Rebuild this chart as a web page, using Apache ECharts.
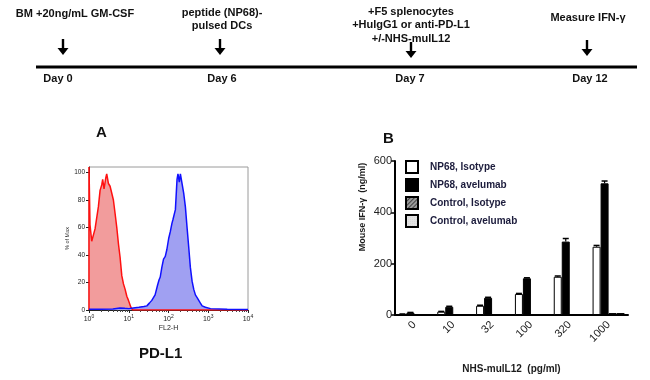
<!DOCTYPE html>
<html>
<head>
<meta charset="utf-8">
<title>PD-L1 / IFN-gamma</title>
<script src="https://cdn.jsdelivr.net/npm/echarts@6/dist/echarts.min.js"></script>
<style>
  html, body { margin: 0; padding: 0; background: #fff; }
  #main { width: 650px; height: 380px; }
</style>
</head>
<body>
<div id="main"></div>
<script>
// ---- 时间轴 (schematic) ----
var timelineDays = ['Day 0', 'Day 6', 'Day 7', 'Day 12'];
var timelineNotes = [
    ['BM +20ng/mL GM-CSF'],
    ['peptide (NP68)-', 'pulsed DCs'],
    ['+F5 splenocytes', '+HulgG1 or anti-PD-L1', '+/-NHS-mulL12'],
    ['Measure IFN-\u03b3']
];

// ---- A: histogram, [FL2-H, % of Max] ----
var isotypeHist = [
    [1, 0], [1, 104], [1.06, 62], [1.17, 50], [1.28, 49], [1.42, 59], [1.56, 60],
    [1.72, 75], [1.9, 87], [2.09, 91], [2.21, 95], [2.39, 88], [2.64, 96], [2.79, 99],
    [3.08, 92], [3.39, 90], [3.73, 90], [4.11, 80], [4.54, 70], [5.0, 60], [5.51, 48],
    [6.07, 38], [6.68, 25], [7.36, 19], [8.11, 15], [8.94, 10], [9.84, 7], [11.3, 2],
    [12.6, 0], [10000, 0]
];
var pdl1Hist = [
    [1, 0.5], [2, 0.5], [4, 0.8], [6, 1.5], [8, 1.2], [10, 1], [13, 1.5], [18, 2],
    [24, 2.5], [28.6, 3], [33, 5], [38, 7], [46, 11], [53, 18], [58, 22], [62, 24],
    [68, 31], [75, 37], [83, 39], [91, 44], [101, 52], [111, 57], [122, 63], [130, 66],
    [140, 65], [149, 73], [157, 85], [164, 95], [173, 99], [187, 93], [199, 99],
    [219, 98], [241, 85], [266, 75], [293, 60], [322, 46], [355, 31], [392, 21],
    [432, 15], [475, 11], [525, 9], [577, 7], [635, 5], [701, 3], [849, 2], [1137, 1],
    [3000, 0.5], [10000, 0.3]
];

// ---- B: IFN-gamma (ng/ml) vs NHS-muIL12 (pg/ml) ----
var doseLabels = ['0', '10', '32', '100', '320', '1000'];
var seriesNames = ['NP68, Isotype', 'NP68, avelumab', 'Control, Isotype', 'Control, avelumab'];
var np68Isotype = [3, 13, 36, 82, 149, 266];
var np68IsotypeErr = [1, 1, 2, 2, 3, 5];
var np68Avelumab = [9, 32, 67, 143, 286, 513];
var np68AvelumabErr = [1, 2, 2, 2, 12, 9];
var ctrlIsotype = [0.5, 0.5, 0.5, 1.5, 3, 7];
var ctrlAvelumab = [0.5, 0.5, 0.5, 1.5, 3, 7];

var FONT = 'Liberation Sans, Arial, sans-serif';
var BAR_W = 8;

// 时间轴的位置
var tl = {
    y: 67, x0: 36, x1: 637,
    arrowX: [63, 220, 411, 587],
    arrowTop: [39, 39, 42, 40],
    arrowBottom: [55, 55, 58, 56],
    dayX: [58, 222, 410, 590],
    noteX: [75, 222, 411, 588],
    noteY: [13, 12, 11, 17],
    dayY: 79
};

function timelineGraphic() {
    var els = [];
    els.push({
        type: 'line',
        shape: { x1: tl.x0, y1: tl.y, x2: tl.x1, y2: tl.y },
        style: { stroke: '#000', lineWidth: 2.8 }
    });
    for (var i = 0; i < timelineDays.length; i++) {
        var x = tl.arrowX[i], b = tl.arrowBottom[i];
        els.push({
            type: 'line',
            shape: { x1: x, y1: tl.arrowTop[i], x2: x, y2: b - 5 },
            style: { stroke: '#000', lineWidth: 2.4 }
        });
        els.push({
            type: 'polygon',
            shape: { points: [[x - 5.5, b - 7], [x + 5.5, b - 7], [x, b]] },
            style: { fill: '#000' }
        });
        els.push({
            type: 'text',
            x: tl.dayX[i], y: tl.dayY,
            style: {
                text: timelineDays[i], fill: '#111', font: 'bold 11px ' + FONT,
                align: 'center', verticalAlign: 'middle'
            }
        });
        els.push({
            type: 'text',
            x: tl.noteX[i], y: tl.noteY[i] - 6,
            style: {
                text: timelineNotes[i].join('\n'), fill: '#111', font: 'bold 11px ' + FONT,
                align: 'center', verticalAlign: 'top', lineHeight: 13.5
            }
        });
    }
    return els;
}

// 误差线
function errorSeries(vals, errs, slot) {
    return {
        type: 'custom',
        xAxisIndex: 1,
        yAxisIndex: 1,
        z: 5,
        silent: true,
        renderItem: function (params, api) {
            var top = api.coord([api.value(0), api.value(1)]);
            var cap = api.coord([api.value(0), api.value(1) + api.value(2)]);
            var x = top[0] + (slot - 1.5) * BAR_W;
            return {
                type: 'group',
                children: [
                    { type: 'line', shape: { x1: x, y1: top[1], x2: x, y2: cap[1] }, style: { stroke: '#000', lineWidth: 1.2 } },
                    { type: 'line', shape: { x1: x - 3, y1: cap[1], x2: x + 3, y2: cap[1] }, style: { stroke: '#000', lineWidth: 1.5 } }
                ]
            };
        },
        data: vals.map(function (v, i) { return [i, v, errs[i]]; })
    };
}

function barSeries(name, data, style) {
    return {
        name: name,
        type: 'bar',
        xAxisIndex: 1,
        yAxisIndex: 1,
        barWidth: BAR_W,
        barGap: '0%',
        itemStyle: style,
        data: data
    };
}

var myChart = echarts.init(document.getElementById('main'), null, { renderer: 'canvas' });

var option = {
    backgroundColor: '#fff',
    animation: false,
    textStyle: { fontFamily: FONT },
    graphic: timelineGraphic(),
    title: [
        { text: 'A', left: 91, top: 120, textStyle: { fontSize: 15, fontWeight: 'bold', color: '#111', fontFamily: FONT } },
        { text: 'B', left: 378, top: 126, textStyle: { fontSize: 15, fontWeight: 'bold', color: '#111', fontFamily: FONT } },
        { text: 'PD-L1', left: 134, top: 341, textStyle: { fontSize: 15, fontWeight: 'bold', color: '#111', fontFamily: FONT } }
    ],
    legend: {
        left: 405,
        top: 160,
        padding: 0,
        orient: 'vertical',
        icon: 'rect',
        itemWidth: 12,
        itemHeight: 12,
        itemGap: 4,
        selectedMode: false,
        data: seriesNames,
        textStyle: { fontSize: 10, fontWeight: 'bold', color: '#1c1c3c', fontFamily: FONT, padding: [0, 0, 0, 7] }
    },
    grid: [
        { left: 89, top: 167, width: 159, height: 143, show: true, borderColor: '#9a9a9a', borderWidth: 1, backgroundColor: 'transparent' },
        { left: 395, top: 161, width: 233, height: 154 }
    ],
    xAxis: [
        {
            type: 'log', gridIndex: 0, logBase: 10, min: 1, max: 10000,
            name: 'FL2-H', nameLocation: 'middle', nameGap: 15,
            nameTextStyle: { fontSize: 7, color: '#222' },
            axisLine: { lineStyle: { color: '#222', width: 1 } },
            axisTick: { length: 3, lineStyle: { color: '#222' } },
            minorTick: { show: true, splitNumber: 9, length: 2, lineStyle: { color: '#444' } },
            splitLine: { show: false },
            axisLabel: {
                margin: 4, color: '#222',
                formatter: function (v) { return '10{s|' + Math.round(Math.log10(v)) + '}'; },
                rich: { s: { fontSize: 5, padding: [0, 0, 5, 0], color: '#222' } },
                fontSize: 7
            }
        },
        {
            type: 'category', gridIndex: 1, data: doseLabels,
            name: 'NHS-mulL12  (pg/ml)', nameLocation: 'middle', nameGap: 49,
            nameTextStyle: { fontSize: 10, fontWeight: 'bold', color: '#1c1c1c' },
            axisLine: { lineStyle: { color: '#000', width: 2 } },
            axisTick: { alignWithLabel: true, length: 5, lineStyle: { color: '#000', width: 1.5 } },
            axisLabel: { rotate: 45, fontSize: 11, color: '#222', margin: 8 }
        }
    ],
    yAxis: [
        {
            type: 'value', gridIndex: 0, min: 0, max: 104, interval: 20,
            name: '% of Max', nameLocation: 'middle', nameGap: 19,
            nameTextStyle: { fontSize: 5.5, color: '#333' },
            axisLine: { show: true, lineStyle: { color: '#222', width: 1 } },
            axisTick: { show: true, length: 3, lineStyle: { color: '#222' } },
            splitLine: { show: false },
            axisLabel: { fontSize: 6.5, color: '#222', margin: 4, showMaxLabel: false }
        },
        {
            type: 'value', gridIndex: 1, min: 0, max: 600, interval: 200,
            name: 'Mouse IFN-\u03b3  (ng/ml)', nameLocation: 'middle', nameGap: 28,
            nameTextStyle: { fontSize: 9, fontWeight: 'bold', color: '#1c1c1c', padding: [0, 0, 0, 62] },
            axisLine: { show: true, lineStyle: { color: '#000', width: 2 } },
            axisTick: { show: true, length: 4, lineStyle: { color: '#000', width: 1.5 } },
            splitLine: { show: false },
            axisLabel: { fontSize: 11, color: '#222', margin: 3 }
        }
    ],
    series: [
        {
            name: 'isotype', type: 'line', xAxisIndex: 0, yAxisIndex: 0,
            showSymbol: false, silent: true,
            lineStyle: { color: '#ff1010', width: 1.5 },
            itemStyle: { color: '#ff1010' },
            areaStyle: { color: '#f29c9c', opacity: 1 },
            data: isotypeHist
        },
        {
            name: 'PD-L1', type: 'line', xAxisIndex: 0, yAxisIndex: 0,
            showSymbol: false, silent: true,
            lineStyle: { color: '#1010ff', width: 1.5 },
            itemStyle: { color: '#1010ff' },
            areaStyle: { color: '#a0a0f2', opacity: 1 },
            data: pdl1Hist
        },
        barSeries(seriesNames[0], np68Isotype, { color: '#fff', borderColor: '#000', borderWidth: 1 }),
        barSeries(seriesNames[1], np68Avelumab, { color: '#000', borderColor: '#000', borderWidth: 1 }),
        barSeries(seriesNames[2], ctrlIsotype, {
            color: '#9a9a9a', borderColor: '#000', borderWidth: 1,
            decal: { symbol: 'rect', dashArrayX: [1, 0], dashArrayY: [1, 2], rotation: -Math.PI / 4, color: '#444' }
        }),
        barSeries(seriesNames[3], ctrlAvelumab, {
            color: '#e2e2e2', borderColor: '#000', borderWidth: 1,
            decal: { symbol: 'rect', symbolSize: 0.6, dashArrayX: [1, 1], dashArrayY: [1, 1], color: '#c4c4c4' }
        }),
        errorSeries(np68Isotype, np68IsotypeErr, 0),
        errorSeries(np68Avelumab, np68AvelumabErr, 1)
    ]
};

myChart.setOption(option);
</script>
</body>
</html>
